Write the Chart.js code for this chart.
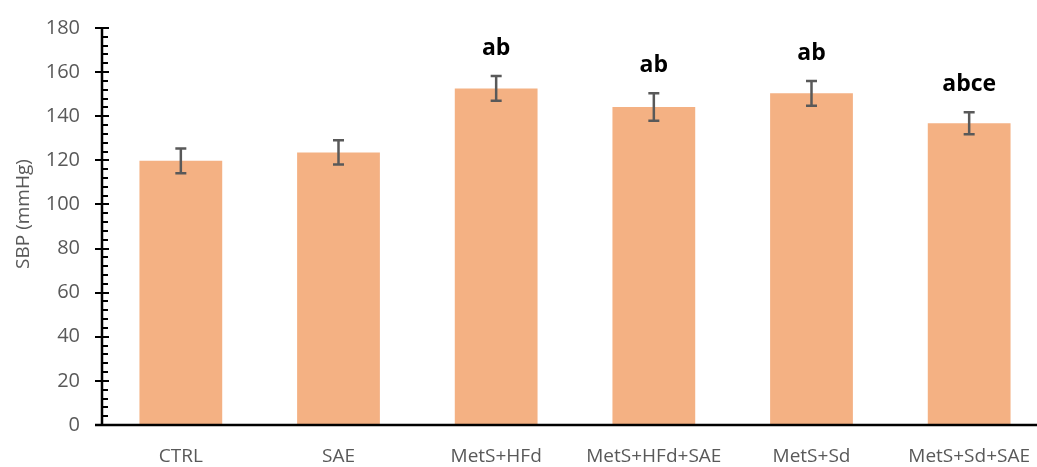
<!DOCTYPE html>
<html>
<head>
<meta charset="utf-8">
<script src="https://cdn.jsdelivr.net/npm/chart.js@4"></script>
<style>
  html, body { margin: 0; padding: 0; background: #fff; overflow: hidden; }
  #wrap { width: 1048px; height: 467px; }
</style>
</head>
<body>
<div id="wrap"><canvas id="c" width="1048" height="467"></canvas></div>
<script>
const categories = ['CTRL', 'SAE', 'MetS+HFd', 'MetS+HFd+SAE', 'MetS+Sd', 'MetS+Sd+SAE'];
const sbpMean = [119.8, 123.6, 152.6, 144.2, 150.4, 136.8];
const sbpError = [5.6, 5.5, 5.6, 6.2, 5.6, 5.0];
const sigLabels = ['', '', 'ab', 'ab', 'ab', 'abce'];
const yAxisTitle = 'SBP (mmHg)';
const yAxisMin = 0;
const yAxisMax = 180;
const yMajorStep = 20;
const yMinorStep = 4;

const FONT = '"Open Sans", "DejaVu Sans", sans-serif';
const GRAY = '#595959';

const decorPlugin = {
  id: 'decor',
  afterDatasetsDraw(chart) {
    const ctx = chart.ctx;
    const xs = chart.scales.x, ys = chart.scales.y;
    ctx.save();
    ctx.strokeStyle = GRAY;
    ctx.lineWidth = 2.5;
    sbpMean.forEach((m, i) => {
      const xp = xs.getPixelForValue(i);
      const top = ys.getPixelForValue(m + sbpError[i]);
      const bot = ys.getPixelForValue(m - sbpError[i]);
      ctx.beginPath();
      ctx.moveTo(xp, top); ctx.lineTo(xp, bot);
      ctx.moveTo(xp - 5.5, top); ctx.lineTo(xp + 5.5, top);
      ctx.moveTo(xp - 5.5, bot); ctx.lineTo(xp + 5.5, bot);
      ctx.stroke();
      if (sigLabels[i]) {
        ctx.fillStyle = '#000';
        ctx.font = 'bold 23px ' + FONT;
        ctx.textAlign = 'center';
        ctx.textBaseline = 'alphabetic';
        ctx.fillText(sigLabels[i], xp, top - 21);
      }
    });
    const left = chart.chartArea.left;
    const bottom = chart.chartArea.bottom;
    ctx.strokeStyle = '#000';
    ctx.lineWidth = 2;
    for (let v = yAxisMin; v <= yAxisMax; v += yMinorStep) {
      const yp = Math.round(ys.getPixelForValue(v));
      ctx.beginPath();
      if (v % yMajorStep === 0) {
        ctx.moveTo(left - 7, yp); ctx.lineTo(left + 7, yp);
      } else {
        ctx.moveTo(left, yp); ctx.lineTo(left + 6, yp);
      }
      ctx.stroke();
    }
    ctx.lineWidth = 2.5;
    ctx.beginPath();
    ctx.moveTo(left, ys.getPixelForValue(yAxisMax));
    ctx.lineTo(left, bottom);
    ctx.moveTo(left - 7, bottom);
    ctx.lineTo(chart.chartArea.right, bottom);
    ctx.stroke();
    // y-axis title
    ctx.translate(24, 214);
    ctx.rotate(-Math.PI / 2);
    ctx.fillStyle = GRAY;
    ctx.font = '19px ' + FONT;
    ctx.textAlign = 'center';
    ctx.textBaseline = 'middle';
    ctx.fillText(yAxisTitle, 0, 0);
    ctx.restore();
  }
};

new Chart(document.getElementById('c'), {
  type: 'bar',
  data: {
    labels: categories,
    datasets: [{
      data: sbpMean,
      backgroundColor: '#F4B183',
      borderWidth: 0,
      categoryPercentage: 1.0,
      barPercentage: 0.525
    }]
  },
  options: {
    responsive: false,
    animation: false,
    events: [],
    layout: { padding: { top: 0, right: 0, left: 0, bottom: 0 } },
    plugins: { legend: { display: false }, tooltip: { enabled: false } },
    scales: {
      x: {
        grid: { display: false },
        border: { display: false },
        ticks: {
          color: GRAY,
          font: { family: FONT, size: 19 },
          padding: 12,
          maxRotation: 0,
          autoSkip: false
        },
        afterFit(scale) { scale.height = 42; }
      },
      y: {
        min: yAxisMin,
        max: yAxisMax,
        grid: { display: true, drawOnChartArea: false, drawTicks: true, tickLength: 6, tickColor: 'rgba(0,0,0,0)' },
        border: { display: false },
        ticks: {
          stepSize: yMajorStep,
          color: GRAY,
          font: { family: FONT, size: 20 },
          padding: 16
        },
        afterFit(scale) { scale.width = 102; }
      }
    }
  },
  plugins: [decorPlugin]
});
</script>
</body>
</html>
